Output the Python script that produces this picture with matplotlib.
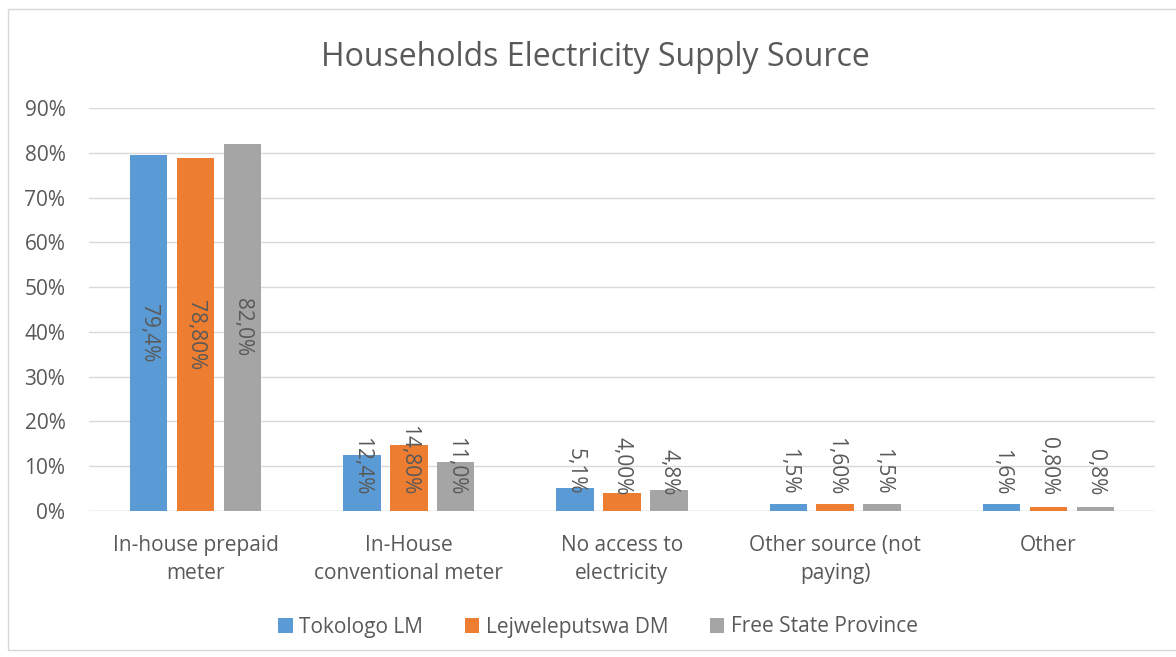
import numpy as np
import matplotlib.pyplot as plt
from matplotlib.patches import Rectangle

categories = ['In-house prepaid\nmeter', 'In-House\nconventional meter', 'No access to\nelectricity',
              'Other source (not\npaying)', 'Other']
series_names = ['Tokologo LM', 'Lejweleputswa DM', 'Free State Province']
tokologo = [79.4, 12.4, 5.1, 1.5, 1.6]
lejwele = [78.8, 14.8, 4.0, 1.6, 0.8]
free_state = [82.0, 11.0, 4.8, 1.5, 0.8]
labels_tok = ['79,4%', '12,4%', '5,1%', '1,5%', '1,6%']
labels_lej = ['78,80%', '14,80%', '4,00%', '1,60%', '0,80%']
labels_fs = ['82,0%', '11,0%', '4,8%', '1,5%', '0,8%']

colors = ['#5B9BD5', '#ED7D31', '#A5A5A5']
txt = '#595959'
plt.rcParams['font.family'] = ['Open Sans', 'DejaVu Sans']

fig = plt.figure(figsize=(11.76, 6.57), dpi=100)
ax = fig.add_axes([89/1176, 1 - 511/657, 1066/1176, 403/657])

# chart frame
fig.patches.append(Rectangle((8/1176, 1 - 650/657), 1.2, 641/657, transform=fig.transFigure,
                             fill=False, edgecolor='#D9D9D9', linewidth=1))

x = np.arange(len(categories))
w = 0.176
step = 0.22
all_vals = [tokologo, lejwele, free_state]
all_labels = [labels_tok, labels_lej, labels_fs]
for i, (vals, labs) in enumerate(zip(all_vals, all_labels)):
    pos = x + (i - 1) * step
    ax.bar(pos, vals, w, color=colors[i], label=series_names[i], zorder=3)
    for p, v, lab in zip(pos, vals, labs):
        if v > 50:
            ax.text(p, v / 2, lab, rotation=270, ha='center', va='center', color=txt, fontsize=15)
        else:
            ax.text(p, 3.6, lab, rotation=270, ha='center', va='bottom', color=txt, fontsize=15)

ax.set_xlim(-0.5, 4.5)
ax.set_ylim(0, 90)
ax.set_yticks(range(0, 91, 10))
ax.set_yticklabels([f'{t}%' for t in range(0, 91, 10)])
ax.set_xticks(x)
ax.set_xticklabels(categories, linespacing=1.45)
ax.tick_params(axis='both', length=0, colors=txt, labelsize=15)
ax.tick_params(axis='x', pad=17)
ax.tick_params(axis='y', pad=17)
ax.grid(axis='y', color='#D9D9D9', linewidth=1, zorder=0)
for s in ax.spines.values():
    s.set_visible(False)
ax.axhline(0, color='#D9D9D9', linewidth=1, zorder=2)

fig.text(595/1176, 1 - 57/657, 'Households Electricity Supply Source', ha='center', va='center',
         fontsize=23, color=txt)
fig.legend(loc='center', bbox_to_anchor=(598/1176, 1 - 627/657), ncol=3, frameon=False,
           fontsize=15, handlelength=0.7, handleheight=0.7, columnspacing=2.0, handletextpad=0.3,
           labelcolor=txt)

fig.savefig('out.png', dpi=100)
